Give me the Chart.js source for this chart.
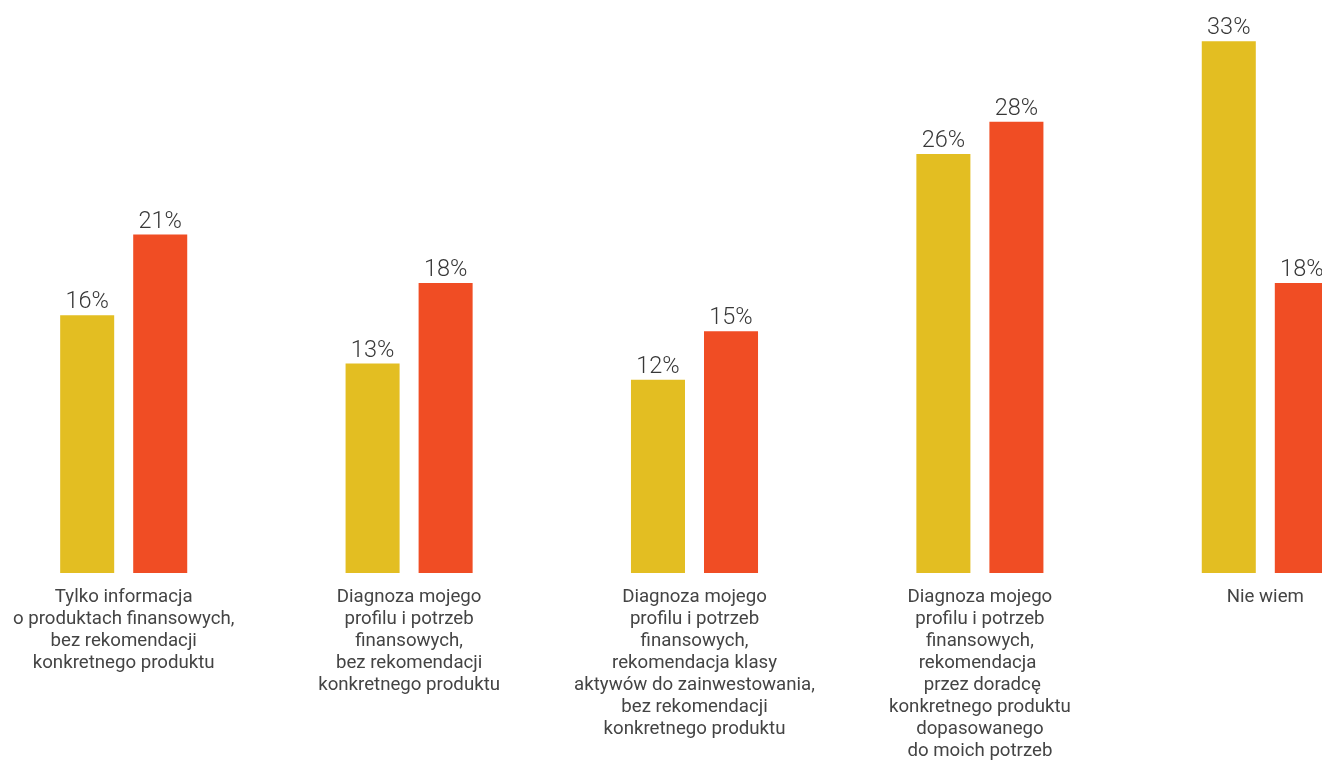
<!DOCTYPE html>
<html lang="pl">
<head>
<meta charset="utf-8">
<title>Oczekiwany zakres porady</title>
<script src="https://cdn.jsdelivr.net/npm/chart.js@4/dist/chart.umd.min.js"></script>
<style>
  html, body { margin: 0; padding: 0; background: #ffffff; overflow: hidden; width: 1322px; height: 760px; }
  #wrap { position: absolute; left: -19px; top: 0; width: 1427px; height: 780px; }
</style>
</head>
<body>
<div id="wrap"><canvas id="chart"></canvas></div>
<script>
// Category labels, one array entry per text line
const categories = [
  ['Tylko informacja', 'o produktach finansowych,', 'bez rekomendacji', 'konkretnego produktu'],
  ['Diagnoza mojego', 'profilu i potrzeb', 'finansowych,', 'bez rekomendacji', 'konkretnego produktu'],
  ['Diagnoza mojego', 'profilu i potrzeb', 'finansowych,', 'rekomendacja klasy', 'aktywów do zainwestowania,', 'bez rekomendacji', 'konkretnego produktu'],
  ['Diagnoza mojego', 'profilu i potrzeb', 'finansowych,', 'rekomendacja ', ' przez doradcę', 'konkretnego produktu', 'dopasowanego', 'do moich potrzeb'],
  ['Nie wiem']
];

// Shares of answers, in percent
const valuesA = [16, 13, 12, 26, 33];
const valuesB = [21, 18, 15, 28, 18];

const colorA = '#E3BE22';
const colorB = '#F04D24';

// Percentage labels above each bar
const valueLabels = {
  id: 'valueLabels',
  afterDatasetsDraw(chart) {
    const ctx = chart.ctx;
    ctx.save();
    ctx.font = '300 23.5px Roboto';
    ctx.fillStyle = '#383838';
    ctx.textAlign = 'center';
    ctx.textBaseline = 'alphabetic';
    chart.data.datasets.forEach((ds, i) => {
      const meta = chart.getDatasetMeta(i);
      meta.data.forEach((bar, j) => {
        ctx.fillText(ds.data[j] + '%', bar.x, bar.y - 7);
      });
    });
    ctx.restore();
  }
};

new Chart(document.getElementById('chart'), {
  type: 'bar',
  data: {
    labels: categories,
    datasets: [
      { label: 'A', data: valuesA, backgroundColor: colorA, borderWidth: 0 },
      { label: 'B', data: valuesB, backgroundColor: colorB, borderWidth: 0 }
    ]
  },
  options: {
    responsive: true,
    maintainAspectRatio: false,
    animation: false,
    devicePixelRatio: 1,
    categoryPercentage: 0.5118,
    barPercentage: 0.7397,
    layout: { padding: { top: 9, bottom: 5, left: 0, right: 0 } },
    plugins: {
      legend: { display: false },
      tooltip: { enabled: false }
    },
    scales: {
      y: {
        display: false,
        min: 0,
        max: 35
      },
      x: {
        grid: { display: false, drawTicks: false },
        border: { display: false },
        ticks: {
          autoSkip: false,
          maxRotation: 0,
          minRotation: 0,
          padding: 13,
          color: '#444444',
          font: { family: 'Roboto', size: 18.67, weight: 400, lineHeight: '22px' }
        }
      }
    }
  },
  plugins: [valueLabels]
});
</script>
</body>
</html>
